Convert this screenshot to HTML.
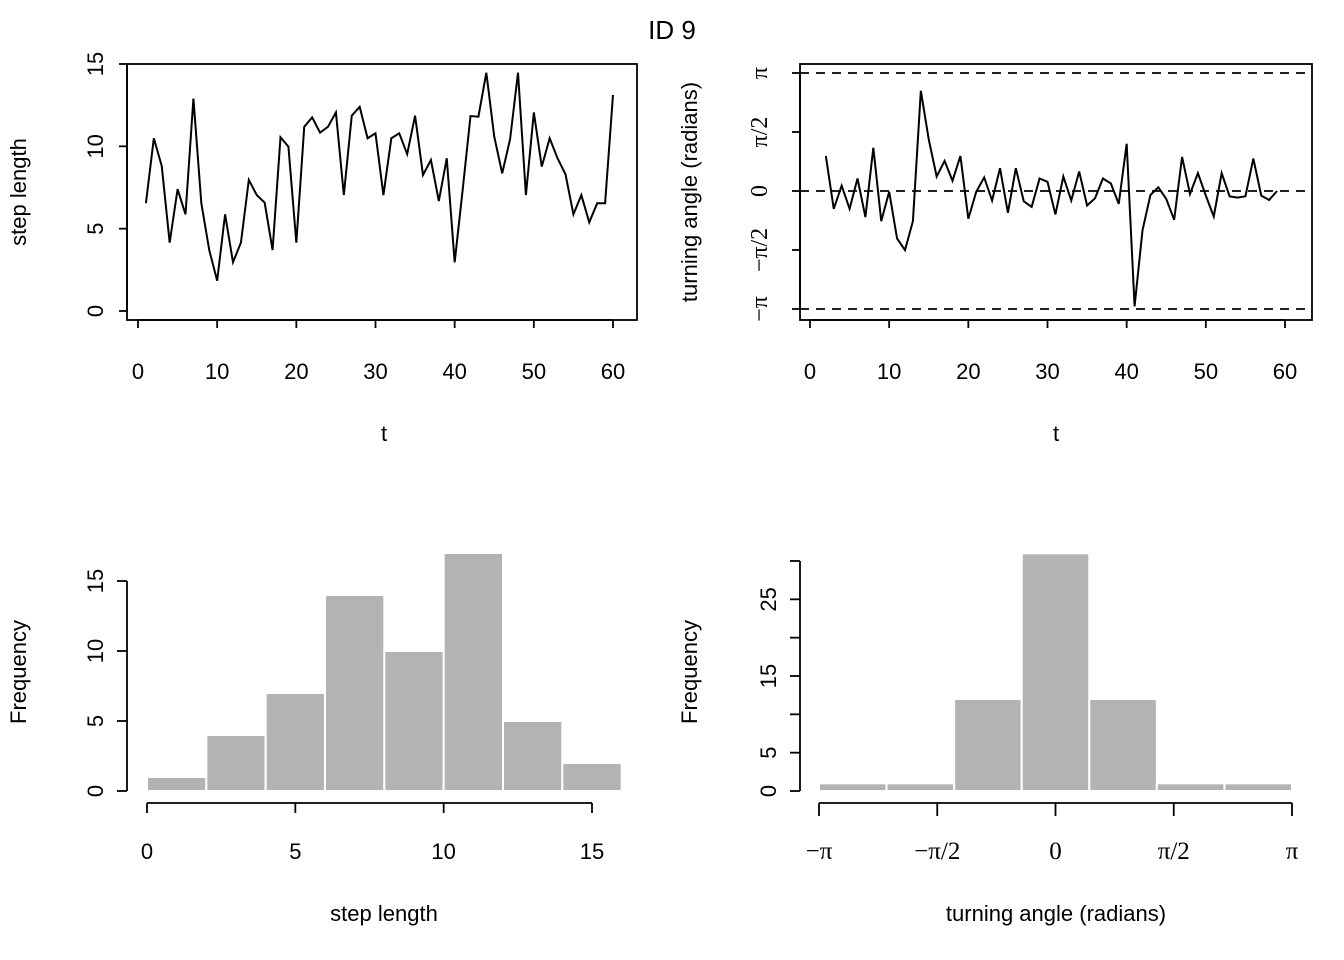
<!DOCTYPE html>
<html><head><meta charset="utf-8"><style>
body{margin:0;background:#fff}
svg{display:block;font-family:"Liberation Sans",sans-serif}
</style></head><body>
<svg id="s" width="1344" height="960" viewBox="0 0 1344 960">
<text x="672" y="39" font-size="26" text-anchor="middle">ID 9</text>
</svg>
<script>
const stepT = [];
for (let i = 1; i <= 60; i++) stepT.push(i);
const stepValues = [6.54,10.49,8.8,4.15,7.4,5.87,12.9,6.54,3.7,1.84,5.87,2.96,4.15,7.96,7.04,6.58,3.7,10.55,9.98,4.15,11.19,11.76,10.83,11.19,12.06,7.04,11.86,12.4,10.49,10.79,7.04,10.49,10.79,9.53,11.86,8.26,9.17,6.68,9.27,2.96,7.31,11.84,11.8,14.47,10.59,8.36,10.43,14.47,7.04,12.06,8.77,10.49,9.27,8.3,5.87,7.04,5.38,6.54,6.54,13.12];
const angleT = [];
for (let i = 2; i <= 59; i++) angleT.push(i);
const anglePiUnits = [0.297,-0.151,0.045,-0.151,0.106,-0.221,0.367,-0.255,-0.006,-0.403,-0.501,-0.255,0.849,0.437,0.123,0.255,0.087,0.297,-0.235,-0.006,0.115,-0.081,0.193,-0.185,0.193,-0.087,-0.134,0.106,0.078,-0.199,0.123,-0.081,0.165,-0.123,-0.062,0.106,0.064,-0.109,0.4,-0.978,-0.333,-0.034,0.031,-0.067,-0.244,0.289,-0.025,0.151,-0.039,-0.216,0.151,-0.045,-0.056,-0.045,0.275,-0.039,-0.076,0];
const stepBins = [0,2,4,6,8,10,12,14,16];
const stepCounts = [1,4,7,14,10,17,5,2];
const angleCounts = [1,1,12,31,12,1,1];
const tTicks = [0,10,20,30,40,50,60];
const stepYTicks = [0,5,10,15];
const histStepXTicks = [0,5,10,15];
const histStepYTicks = [0,5,10,15];
const histAngleYTicks = [0,5,10,15,20,25,30];
const histAngleYLabels = ["0","5","","15","","25",""];
const piTicks = [-1,-0.5,0,0.5,1];
const piLabels = ["\u2212\u03c0","\u2212\u03c0/2","0","\u03c0/2","\u03c0"];

const NS = "http://www.w3.org/2000/svg";
const svg = document.getElementById('s');
const FS = 22;
function mk(tag, attrs, parent) {
  const e = document.createElementNS(NS, tag);
  for (const k in attrs) e.setAttribute(k, attrs[k]);
  (parent || svg).appendChild(e);
  return e;
}
function grp(name) {
  const g = mk('g', {});
  
  
  return g;
}
function line(g, x1, y1, x2, y2, extra) {
  return mk('line', Object.assign({x1, y1, x2, y2, stroke: '#000', 'stroke-width': 1.8}, extra || {}), g);
}
function text(g, x, y, s, opts) {
  const t = mk('text', Object.assign({x, y, 'font-size': FS, 'text-anchor': 'middle'}, opts || {}), g);
  t.textContent = s;
  return t;
}
function rotText(g, x, y, s, opts) {
  return text(g, x, y, s, Object.assign({transform: `rotate(-90 ${x} ${y})`}, opts || {}));
}

// ---------- Panel 1 ----------
{
  const xs = v => 138 + v * (613 - 138) / 60;
  const ys = v => 311 - v * (311 - 64) / 15;
  const g = grp('step-length-series-panel');
  const box = mk('rect', {x: 127, y: 64, width: 510, height: 256, fill: 'none', stroke: '#000', 'stroke-width': 1.8}, g);
  
  
  const ax = grp('x-axis'); g.appendChild(ax);
  line(ax, xs(0), 320, xs(60), 320);
  tTicks.forEach(v => { line(ax, xs(v), 320, xs(v), 328); text(ax, xs(v), 379, String(v)); });
  const xt = text(ax, 384, 441, 't');  
  const ay = grp('y-axis'); g.appendChild(ay);
  line(ay, 127, ys(0), 127, ys(15));
  stepYTicks.forEach(v => { line(ay, 119, ys(v), 127, ys(v)); rotText(ay, 103, ys(v), String(v)); });
  const yt = rotText(ay, 26, 192, 'step length');  
  const pts = stepT.map((t, i) => xs(t) + ',' + ys(stepValues[i])).join(' ');
  const pl = mk('polyline', {points: pts, fill: 'none', stroke: '#000', 'stroke-width': 2}, g);
  
  
}

// ---------- Panel 2 ----------
{
  const xs = v => 810 + v * (1285 - 810) / 60;
  const ys = v => 191 - v * (191 - 73);
  const g = grp('turning-angle-series-panel');
  const box = mk('rect', {x: 800, y: 64, width: 512, height: 256, fill: 'none', stroke: '#000', 'stroke-width': 1.8}, g);
  
  
  [-1, 0, 1].forEach(v => {
    const d = line(g, 800, ys(v), 1312, ys(v), {'stroke-dasharray': '9,7'});
    
    
  });
  const ax = grp('x-axis'); g.appendChild(ax);
  line(ax, xs(0), 320, xs(60), 320);
  tTicks.forEach(v => { line(ax, xs(v), 320, xs(v), 328); text(ax, xs(v), 379, String(v)); });
  const xt = text(ax, 1056, 441, 't');  
  const ay = grp('y-axis'); g.appendChild(ay);
  line(ay, 800, ys(-1), 800, ys(1));
  piTicks.forEach((v, i) => { line(ay, 792, ys(v), 800, ys(v)); rotText(ay, 767, ys(v), piLabels[i], {'font-family': '"Liberation Serif",serif', 'font-size': 24}); });
  const yt = rotText(ay, 697, 192, 'turning angle (radians)');  
  const pts = angleT.map((t, i) => xs(t) + ',' + ys(anglePiUnits[i])).join(' ');
  const pl = mk('polyline', {points: pts, fill: 'none', stroke: '#000', 'stroke-width': 2}, g);
  
  
}

// ---------- Panel 3 ----------
{
  const xs = v => 147 + v * (592 - 147) / 15;
  const ys = v => 791 - v * 14;
  const g = grp('step-length-histogram-panel');
  stepCounts.forEach((c, i) => {
    const r = mk('rect', {x: xs(stepBins[i]), y: ys(c), width: xs(stepBins[i + 1]) - xs(stepBins[i]), height: ys(0) - ys(c), fill: '#b3b3b3', stroke: '#fff', 'stroke-width': 2}, g);
    
    
  });
  const ax = grp('x-axis'); g.appendChild(ax);
  line(ax, xs(0), 803, xs(15), 803);
  histStepXTicks.forEach(v => { line(ax, xs(v), 803, xs(v), 813); text(ax, xs(v), 859, String(v)); });
  const xt = text(ax, 384, 921, 'step length');  
  const ay = grp('y-axis'); g.appendChild(ay);
  line(ay, 127, ys(0), 127, ys(15));
  histStepYTicks.forEach(v => { line(ay, 117, ys(v), 127, ys(v)); rotText(ay, 103, ys(v), String(v)); });
  const yt = rotText(ay, 26, 672, 'Frequency');  
}

// ---------- Panel 4 ----------
{
  const xs = v => 819 + (v + 1) * (1292 - 819) / 2;
  const ys = v => 791 - v * (791 - 561) / 30;
  const g = grp('turning-angle-histogram-panel');
  const n = angleCounts.length;
  angleCounts.forEach((c, i) => {
    const a = -1 + 2 * i / n, b = -1 + 2 * (i + 1) / n;
    const r = mk('rect', {x: xs(a), y: ys(c), width: xs(b) - xs(a), height: ys(0) - ys(c), fill: '#b3b3b3', stroke: '#fff', 'stroke-width': 2}, g);
    
    
  });
  const ax = grp('x-axis'); g.appendChild(ax);
  line(ax, xs(-1), 803, xs(1), 803);
  piTicks.forEach((v, i) => { line(ax, xs(v), 803, xs(v), 816); text(ax, xs(v), 859, piLabels[i], {'font-family': '"Liberation Serif",serif', 'font-size': 25}); });
  const xt = text(ax, 1056, 921, 'turning angle (radians)');  
  const ay = grp('y-axis'); g.appendChild(ay);
  line(ay, 800, ys(0), 800, ys(30));
  histAngleYTicks.forEach((v, i) => { line(ay, 790, ys(v), 800, ys(v)); if (histAngleYLabels[i]) rotText(ay, 776, ys(v), histAngleYLabels[i]); });
  const yt = rotText(ay, 697, 672, 'Frequency');  
}
</script>
</body></html>
